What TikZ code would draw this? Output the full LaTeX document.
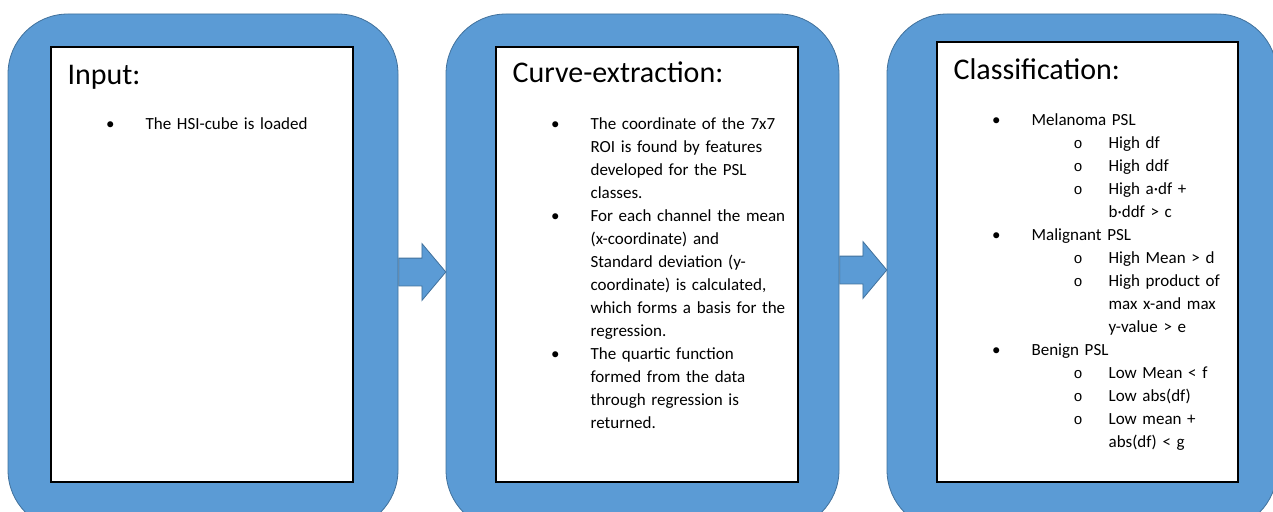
\documentclass[tikz,border=0pt]{standalone}
\usepackage{fontspec}
\setmainfont{Carlito}
\newfontfamily\ringfont{Liberation Mono}
\usetikzlibrary{positioning, calc, shapes.arrows}
\definecolor{panelblue}{HTML}{5B9BD5}
\definecolor{paneledge}{HTML}{41719C}
\setlength{\parindent}{0pt}
\newcommand{\dotmark}{\leavevmode\llap{\textbullet\hspace{31pt}}}
\newcommand{\ringmark}{\leavevmode\llap{{\ringfont\fontsize{15}{23}\selectfont o}\hspace{26pt}}}
\newcommand{\subline}{\leavevmode\hspace*{77pt}}

\begin{document}
\begin{tikzpicture}[x=1pt, y=-1pt,
    panel/.style={draw=paneledge, fill=panelblue, line width=0.8pt, rounded corners=60pt,
                  minimum width=390pt, minimum height=516pt, inner sep=0pt},
    sheet/.style={draw=black, fill=white, line width=1.2pt, inner sep=0pt,
                  minimum width=302pt, minimum height=435pt},
    heading/.style={anchor=base west, inner sep=0pt, font=\fontsize{30}{36}\selectfont},
    body/.style={anchor=base west, inner sep=0pt, text width=250pt, align=left,
                 font=\fontsize{17}{23}\selectfont},
    flowarrow/.style={single arrow, draw=paneledge, fill=panelblue, line width=0.8pt,
                      minimum height=47pt, inner xsep=0pt, inner ysep=13.5pt,
                      single arrow head extend=14.5pt, single arrow tip angle=100, anchor=tail}]
    \useasboundingbox (0,0) rectangle (1273,511);

    % the three blue panels
    \node[panel] (p1) at (203,272) {};
    \node[panel, minimum width=393pt] (p2) at (642.5,272) {};
    \node[panel] (p3) at (1082,272) {};

    % white sheets
    \node[sheet] (in1) at (202,264.5) {};
    \node[sheet] (in2) at (647,264.5) {};
    \node[sheet, minimum width=301pt, minimum height=440pt] (in3) at (1087.5,262) {};

    % block arrows between the panels
    \node[flowarrow] (arr1) at (p1.east) {};
    \node[flowarrow] (arr2) at ($(p2.east)+(0,-2)$) {};

    \node[heading] (title1) at ($(in1.north west)+(17,38)$) {Input:};
    \node[heading] (title2) at ($(in2.north west)+(17,36)$) {Curve-extraction:};
    \node[heading] (title3) at ($(in3.north west)+(17,38)$) {Classification:};

    \node[body] (list1) at ($(in1.north west)+(95,83)$) {\dotmark The HSI-cube is loaded};
    \node[body] (list2) at ($(in2.north west)+(95,83)$) {\dotmark The coordinate of the 7x7\\
        ROI is found by features\\
        developed for the PSL\\
        classes.\\
        \dotmark For each channel the mean\\
        (x-coordinate) and\\
        Standard deviation (y-\\
        coordinate) is calculated,\\
        which forms a basis for the\\
        regression.\\
        \dotmark The quartic function\\
        formed from the data\\
        through regression is\\
        returned.};
    \node[body] (list3) at ($(in3.north west)+(95,84)$) {\dotmark Melanoma PSL\\
        \subline\ringmark High df\\
        \subline\ringmark High ddf\\
        \subline\ringmark High a·df +\\
        \subline b·ddf > c\\
        \dotmark Malignant PSL\\
        \subline\ringmark High Mean > d\\
        \subline\ringmark High product of\\
        \subline max x-and max\\
        \subline y-value > e\\
        \dotmark Benign PSL\\
        \subline\ringmark Low Mean < f\\
        \subline\ringmark Low abs(df)\\
        \subline\ringmark Low mean +\\
        \subline abs(df) < g};
\end{tikzpicture}
\end{document}
